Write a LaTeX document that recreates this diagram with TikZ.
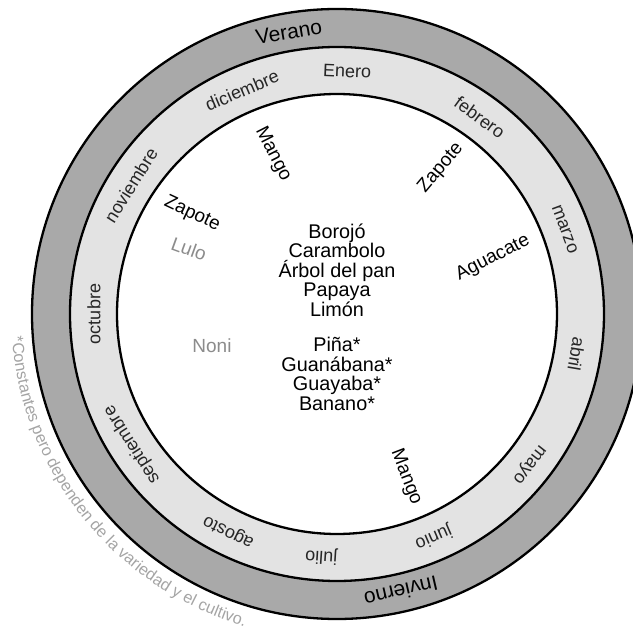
\documentclass[tikz,border=0pt]{standalone}
\usepackage{fontspec}
\setmainfont{Liberation Sans}
\usetikzlibrary{decorations.text}
\definecolor{verano}{HTML}{A9A9A9}
\definecolor{meses}{HTML}{E3E3E3}
\definecolor{tenue}{HTML}{8C8C8C}
\definecolor{nota}{HTML}{A4A4A4}

\begin{document}
\begin{tikzpicture}[x=1pt, y=1pt,
  ring/.style={draw, line width=2.3pt},
  month/.style={font=\fontsize{18}{18}\selectfont, text=black!85, inner sep=0pt},
  season/.style={font=\fontsize{21}{21}\selectfont, inner sep=0pt},
  fruit/.style={font=\fontsize{19}{19.5}\selectfont, inner sep=0pt},
  faint/.style={fruit, text=tenue},
  list/.style={align=center, inner sep=0pt, font=\fontsize{19.8}{19.5}\selectfont}]
  \clip (-337,-315) rectangle (296,314);
  % anillos
  \draw[ring, fill=verano] (0,0) circle (305);
  \draw[ring, fill=meses] (0,0) circle (267);
  \draw[ring, fill=white] (0,0) circle (220);
  % estaciones
  \node[season, rotate=9.7] (verano) at (99.7:286) {Verano};
  \node[season, rotate=-167] (invierno) at (-77:285) {Invierno};
  % meses
  \node[month, rotate=-2.4] (enero) at (87.6:243) {Enero};
  \node[month, rotate=-36] (febrero) at (54:243) {febrero};
  \node[month, rotate=-69.6] (marzo) at (20.4:243) {marzo};
  \node[month, rotate=-99.5] (abril) at (-9.5:243) {abril};
  \node[month, rotate=-128] (mayo) at (-38:243) {mayo};
  \node[month, rotate=-156.6] (junio) at (-66.6:243) {junio};
  \node[month, rotate=-183.7] (julio) at (-93.7:243) {julio};
  \node[month, rotate=-206.5] (agosto) at (-116.5:243) {agosto};
  \node[month, rotate=-237.5] (septiembre) at (-147.5:243) {septiembre};
  \node[month, rotate=90] (octubre) at (180:243) {octubre};
  \node[month, rotate=58] (noviembre) at (148:243) {noviembre};
  \node[month, rotate=23] (diciembre) at (113:243) {diciembre};
  % frutas
  \node[list] (todoano) at (0,44)
    {Borojó\\Carambolo\\Árbol del pan\\Papaya\\Limón};
  \node[list] (constantes) at (0,-60)
    {Piña*\\Guanábana*\\Guayaba*\\Banano*};
  \node[fruit, rotate=-63] (mango-a) at (-64,160) {Mango};
  \node[fruit, rotate=50] (zapote-a) at (104,146) {Zapote};
  \node[fruit, rotate=-25] (zapote-b) at (-145,100) {Zapote};
  \node[faint, rotate=-20] (lulo) at (-148,65) {Lulo};
  \node[fruit, rotate=27] (aguacate) at (156,56) {Aguacate};
  \node[faint] (noni) at (-125,-32) {Noni};
  \node[fruit, rotate=-69] (mango-b) at (69,-163) {Mango};
  % nota
  \path[decorate, decoration={text along path, text align=center,
    text={|\fontsize{16.3}{16}\selectfont\color{nota}|*Constantes pero dependen de la variedad y el cultivo.}}]
    (184:326) arc[start angle=184, end angle=253.5, radius=326];
\end{tikzpicture}
\end{document}
